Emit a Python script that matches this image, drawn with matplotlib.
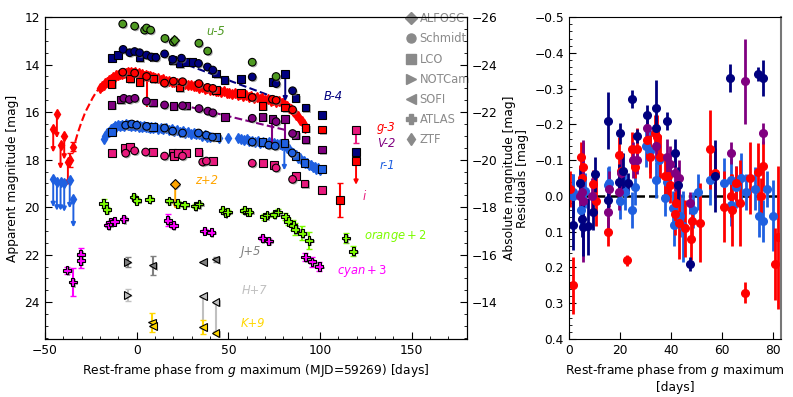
import matplotlib
matplotlib.use('Agg')
import matplotlib.pyplot as plt
import matplotlib.patheffects as pe
from matplotlib.lines import Line2D
from matplotlib.ticker import MultipleLocator

# ── main light curve data (plotted magnitudes, offsets already applied) ──────
u_sch_t = [-7.6, -1.1, 4.3, 5.4, 7.6, 15.4, 20, 33.9, 38.7, 63, 76]
u_sch_m = [12.29, 12.38, 12.55, 12.46, 12.55, 12.9, 13.05, 13.1, 13.43, 13.9, 14.5]
u_alf_t = [20.6]
u_alf_m = [12.95]

B_sch_t = [-7.4, -3.8, -1.1, 1.6, 5.4, 8.0, 10.5, 15.2, 19.6, 24.4, 33.7, 38.6, 41.5, 63, 76, 85]
B_sch_m = [13.36, 13.5, 13.45, 13.5, 13.6, 13.68, 13.7, 13.55, 13.78, 13.73, 13.95, 14.1, 14.23, 14.52, 14.8, 15.1]
B_lco_t = [-13.6, -10.3, 1.6, 9.2, 19.6, 23.4, 27, 30.5, 43.4, 47.8, 57, 74, 81, 86.5, 92, 101, 119.6]
B_lco_m = [13.73, 13.6, 13.7, 13.68, 13.82, 13.95, 13.9, 13.9, 14.37, 14.65, 14.6, 14.73, 14.4, 15.41, 15.8, 16.13, 17.68]
B_fit_t = [22, 81]
B_fit_m = [13.85, 15.55]

g_sch_t = [-7.6, -1.1, 5.4, 15.2, 20, 25, 33.9, 38.6, 41.5, 63, 74, 76, 85]
g_sch_m = [14.32, 14.36, 14.5, 14.78, 14.7, 14.72, 14.8, 14.96, 15.0, 15.38, 15.46, 15.5, 15.9]
g_lco_t = [-13.8, -3.5, 1.6, 9.2, 23.4, 43.3, 57, 68.5, 81, 92, 101, 111, 119.6]
g_lco_m = [14.82, 14.58, 14.73, 14.58, 14.96, 15.07, 15.2, 15.75, 15.8, 16.68, 16.73, 19.7, 18.06]
g_ztf_t = [-20, -19, -18, -17, -16, -15, -14, -13, -12, -11, -10, -9, -8, -7, -6, -5, -4, -3, -2, -1,
           0, 1, 2, 3, 4, 5, 6, 7, 8, 9, 10, 11.5, 13, 14.5, 16, 17.5, 19, 20.5, 22, 23.5, 25, 26.5,
           28, 29.5, 31, 32.5, 34, 35.5, 37, 38.5, 40, 41.5, 43, 44.5, 46, 47.5, 49, 50.5, 52, 53.5,
           55, 56.5, 58, 59.5, 61, 62.5, 64, 65.5, 67, 68.5, 70, 71.5, 73, 74.5, 76, 77.5, 79, 80,
           81, 82, 83, 84, 85, 86, 87, 88, 89, 90, 91, 92]
g_ztf_m = [15.0, 14.9, 14.86, 14.76, 14.73, 14.64, 14.61, 14.53, 14.51, 14.45, 14.44, 14.38, 14.39,
           14.35, 14.37, 14.32, 14.35, 14.31, 14.36, 14.33, 14.38, 14.36, 14.42, 14.39, 14.46, 14.43,
           14.5, 14.47, 14.54, 14.51, 14.58, 14.56, 14.64, 14.62, 14.69, 14.68, 14.74, 14.72, 14.78,
           14.76, 14.82, 14.81, 14.87, 14.85, 14.92, 14.9, 14.97, 14.95, 15.02, 15.0, 15.07, 15.05,
           15.12, 15.1, 15.16, 15.13, 15.2, 15.18, 15.24, 15.21, 15.28, 15.25, 15.32, 15.29, 15.36,
           15.33, 15.4, 15.37, 15.44, 15.41, 15.48, 15.45, 15.52, 15.5, 15.56, 15.55, 15.62, 15.63,
           15.72, 15.73, 15.82, 15.86, 15.97, 16.0, 16.12, 16.18, 16.32, 16.38, 16.52, 16.65]
g_lim_t = [-45.5, -43.5, -41.5, -39.5, -37.5]
g_lim_m = [16.7, 16.1, 17.4, 17.0, 18.1]
g_det_t = [-36.5, -34.5]
g_det_m = [18.0, 17.45]
g_det_e = [0.3, 0.2]
g_fit_t = [-33.5, -32, -30, -28, -26, -24, -22, -20]
g_fit_m = [17.25, 16.85, 16.4, 16.0, 15.7, 15.4, 15.15, 14.95]

V_sch_t = [-7, -4, -1, 5.3, 15.2, 25, 34, 38.8, 41.5, 63, 76, 85]
V_sch_m = [15.42, 15.47, 15.42, 15.54, 15.7, 15.73, 15.85, 15.96, 16.03, 16.26, 16.4, 16.9]
V_lco_t = [-13.8, -8.9, 8.8, 20, 27, 48.3, 68.5, 74, 81, 86.5, 92, 101]
V_lco_m = [15.7, 15.47, 15.6, 15.75, 15.72, 16.2, 16.2, 16.3, 16.3, 16.97, 17.15, 17.57]
V_fit_t = [30, 81]
V_fit_m = [15.8, 16.75]

r_sch_t = [-6, -2.7, 0, 5.4, 15.2, 19.6, 25, 33.7, 38, 41.3, 63, 72, 75.5, 84.8]
r_sch_m = [16.55, 16.5, 16.55, 16.6, 16.67, 16.8, 16.88, 16.88, 16.97, 17.05, 17.26, 17.39, 17.43, 17.72]
r_lco_t = [-13.6, 8.9, 43.5, 68.5, 80.5, 86.5, 91.5, 101]
r_lco_m = [16.84, 16.63, 17.05, 17.26, 17.3, 17.85, 18.15, 18.4]
r_ztf_t = [-18, -17, -16, -15, -14, -13, -12, -11, -10, -9, -8, -7, -6, -5, -4, -3, -2, -1, 0, 1, 2,
           3, 4, 5, 6, 7, 8, 9, 10, 11.5, 13, 14.5, 16, 17.5, 19, 20.5, 22, 23.5, 25, 26.5, 28, 29.5,
           31, 32.5, 34, 35.5, 37, 38.5, 40, 45, 50, 55, 57, 58.5, 60, 61.5, 63, 64.5, 66, 67.5, 69,
           70.5, 72, 73.5, 75, 76.5, 78, 79.5, 81, 82, 83, 84, 85, 86, 87, 88, 89, 90, 91, 92, 93,
           94, 95, 96, 97, 98, 99, 100]
r_ztf_m = [17.15, 17.02, 16.86, 16.82, 16.7, 16.68, 16.6, 16.62, 16.56, 16.58, 16.53, 16.57, 16.52,
           16.56, 16.53, 16.57, 16.54, 16.59, 16.56, 16.61, 16.58, 16.63, 16.6, 16.64, 16.61, 16.65,
           16.62, 16.67, 16.64, 16.69, 16.66, 16.71, 16.68, 16.74, 16.72, 16.78, 16.76, 16.82, 16.8,
           16.86, 16.84, 16.9, 16.88, 16.94, 16.93, 16.99, 16.98, 17.04, 17.03, 17.08, 17.1, 17.1,
           17.12, 17.16, 17.15, 17.21, 17.2, 17.25, 17.23, 17.28, 17.25, 17.3, 17.27, 17.32, 17.29,
           17.35, 17.33, 17.4, 17.4, 17.5, 17.56, 17.67, 17.7, 17.8, 17.82, 17.92, 17.94, 18.04,
           18.05, 18.14, 18.15, 18.24, 18.24, 18.32, 18.3, 18.38, 18.36, 18.43]
r_lim_t = [-45.5, -43.5, -41.5, -39.5, -36.5, -34.5]
r_lim_m = [18.8, 18.95, 18.95, 19.0, 18.85, 19.65]

i_sch_t = [-6, -1.1, 4.9, 15.2, 25, 36, 38, 63, 76, 85]
i_sch_m = [17.73, 17.63, 17.68, 17.85, 17.85, 18.1, 18.06, 18.15, 18.35, 18.83]
i_lco_t = [-13.6, -6.5, -3.8, 8.8, 19.6, 20.5, 22.5, 27, 33.7, 41.5, 69, 75, 87, 91.5, 101, 119.6]
i_lco_m = [17.73, 17.5, 17.48, 17.68, 17.7, 17.85, 17.73, 17.73, 17.68, 18.06, 18.15, 18.23, 18.7,
           19.0, 19.28, 16.76]

z_alf_t = [21]
z_alf_m = [19.03]

o_t = [-18, -16.3, -1.6, 0, 7, 17.6, 22.4, 26, 32, 34, 46.9, 48.5, 49.6, 58.7, 60.5, 61.4, 69.6, 71,
       75, 77, 81, 82.6, 85.3, 86.4, 90.2, 94, 114, 118]
o_m = [19.85, 20.1, 19.57, 19.73, 19.67, 19.73, 19.84, 19.9, 19.95, 19.87, 20.13, 20.25, 20.2, 20.13,
       20.2, 20.2, 20.4, 20.33, 20.3, 20.2, 20.4, 20.6, 20.76, 20.93, 21.1, 21.4, 21.3, 21.85]
o_e = [0.2, 0.1, 0.1, 0.1, 0.08, 0.08, 0.08, 0.08, 0.08, 0.08, 0.08, 0.08, 0.08, 0.1, 0.1, 0.1, 0.12,
       0.1, 0.1, 0.12, 0.15, 0.15, 0.2, 0.25, 0.3, 0.35, 0.2, 0.2]

c_t = [-38, -34.8, -30.5, -30.5, -15.5, -14.2, -12, -7, 17, 20, 37, 40.6, 68.5, 72, 92, 95.6, 99.5]
c_m = [22.65, 23.15, 21.98, 22.25, 20.75, 20.62, 20.6, 20.5, 20.55, 20.76, 21.0, 21.05, 21.3, 21.42,
       22.1, 22.3, 22.5]
c_e = [0.15, 0.6, 0.25, 0.3, 0.1, 0.08, 0.08, 0.1, 0.25, 0.1, 0.06, 0.06, 0.08, 0.08, 0.15, 0.2, 0.2]

J_not_t, J_not_m, J_not_e = [-5], [22.3], [0.2]
J_sofi_t, J_sofi_m, J_sofi_e = [8.7, 36, 43], [22.45, 22.3, 22.2], [0.4, 0.0, 0.1]
H_not_t, H_not_m, H_not_e = [-5], [23.7], [0.25]
H_sofi_t, H_sofi_m, H_sofi_e = [36, 43], [23.75, 24.0], [1.3, 1.2]
K_sofi_t = [8.5, 9, 36, 43]
K_sofi_m = [24.85, 25.0, 25.05, 25.3]
K_sofi_e = [0.4, 0.05, 0.3, 0.05]

# ── residuals ────────────────────────────────────────────────────────────────
res_g_t = [0.4, 1.6, 4.6, 5.1, 5.5, 9.3, 10.5, 15.4, 19.7, 20.5, 22.8, 24.7, 25.8, 26.6, 30.5, 31.9,
           33.8, 34.5, 35.5, 37.7, 38.6, 39.5, 41.5, 41.9, 43, 45.3, 47.7, 48.2, 51.2, 55.3, 57.3,
           60.8, 63.5, 64, 65.5, 67, 69, 71, 74, 75, 76, 80.8, 82]
res_g_r = [-0.02, 0.25, -0.11, -0.05, -0.08, -0.033, 0.015, 0.1, -0.115, -0.07, 0.18, -0.13, -0.08,
           -0.13, -0.155, -0.11, -0.175, -0.165, -0.11, -0.056, -0.055, -0.03, 0.05, 0.02, 0.075,
           0.09, 0.12, 0.07, 0.075, -0.13, -0.065, 0.03, 0.0, 0.04, -0.035, 0.02, 0.27, -0.05,
           -0.068, 0.0, -0.083, 0.19, 0.115]
res_g_e = [0.05, 0.08, 0.04, 0.05, 0.07, 0.04, 0.07, 0.04, 0.05, 0.05, 0.015, 0.05, 0.03, 0.06, 0.05,
           0.06, 0.05, 0.06, 0.06, 0.06, 0.06, 0.05, 0.06, 0.06, 0.1, 0.08, 0.06, 0.06, 0.11, 0.11,
           0.07, 0.1, 0.06, 0.1, 0.05, 0.12, 0.03, 0.1, 0.08, 0.05, 0.07, 0.1, 0.2]

res_r_t = [1.5, 1.6, 4.7, 6.3, 15.4, 15.7, 20, 22, 24.7, 25.9, 30.2, 31.7, 34, 35.3, 37.6, 38.4, 40.8,
           41.2, 43.5, 44.6, 48.6, 50.6, 55.2, 60.8, 63.5, 63.5, 65.4, 67.3, 69.3, 72.9, 74.5, 76,
           77.6, 80]
res_r_r = [-0.01, 0.0, 0.04, -0.015, -0.03, -0.035, 0.015, -0.01, 0.04, -0.025, -0.14, -0.125, -0.045,
           -0.1, 0.005, -0.04, 0.035, 0.08, 0.055, 0.085, 0.04, -0.01, -0.045, -0.035, -0.045, 0.025,
           -0.025, -0.05, -0.01, -0.02, 0.055, 0.07, -0.02, 0.055]
res_r_e = [0.05, 0.06, 0.05, 0.05, 0.05, 0.05, 0.05, 0.05, 0.05, 0.05, 0.06, 0.06, 0.05, 0.06, 0.05,
           0.05, 0.05, 0.06, 0.06, 0.1, 0.05, 0.05, 0.07, 0.07, 0.06, 0.06, 0.06, 0.07, 0.05, 0.06,
           0.06, 0.06, 0.05, 0.1]

res_B_t = [1.7, 4.3, 5.0, 5.5, 7.5, 9.3, 10.2, 15.3, 15.4, 19.6, 20, 21, 23, 24.5, 26.6, 30.5, 34, 34,
           38.4, 41.5, 42.6, 47.4, 57.2, 63.2, 74, 76]
res_B_r = [0.08, -0.035, 0.064, 0.088, 0.085, 0.045, -0.06, -0.21, 0.01, -0.04, -0.175, -0.07, -0.035,
           -0.27, -0.167, -0.225, -0.245, -0.19, -0.21, -0.12, -0.03, 0.19, -0.055, -0.33, -0.34,
           -0.33]
res_B_e = [0.07, 0.05, 0.05, 0.08, 0.08, 0.05, 0.05, 0.08, 0.03, 0.05, 0.03, 0.05, 0.03, 0.025, 0.02,
           0.03, 0.08, 0.03, 0.025, 0.04, 0.05, 0.02, 0.1, 0.04, 0.02, 0.05]

res_V_t = [4.3, 5.0, 5.5, 9.0, 15.4, 15.7, 19.6, 20.4, 25, 26.6, 30.6, 34, 38.4, 39.6, 41.6, 43, 47.4,
           63.5, 69, 76]
res_V_r = [0.0, -0.01, 0.015, 0.0, 0.045, -0.02, -0.01, -0.065, -0.1, -0.1, -0.19, -0.14, -0.11, -0.09,
           -0.065, -0.05, 0.02, -0.12, -0.32, -0.175]
res_V_e = [0.05, 0.04, 0.17, 0.05, 0.05, 0.05, 0.05, 0.06, 0.05, 0.04, 0.05, 0.04, 0.05, 0.05, 0.05,
           0.05, 0.03, 0.03, 0.12, 0.03]

C_U, C_B, C_G, C_V, C_R, C_I = '#4f9a22', '#00007f', '#ff0000', '#800080', '#1f60e0', '#e8197d'
C_Z, C_O, C_C = '#ffa500', '#7cfc00', '#ff00ff'
C_J, C_H, C_K = '#808080', '#c0c0c0', '#ffd700'

DIST_MOD = 38.0
shadow = [pe.SimplePatchShadow(offset=(1.0, -1.0), shadow_rgbFace='gray', alpha=0.6), pe.Normal()]

plt.rcParams['font.size'] = 8.8


def phot(ax, t, m, marker, color, ms=5.5, z=4):
    ax.plot(t, m, ls='none', marker=marker, ms=ms, mfc=color, mec='k', mew=0.8,
            path_effects=shadow, zorder=z)


def limit(ax, t, m, length, color):
    ax.annotate('', xy=(t, m + length), xytext=(t, m),
                arrowprops=dict(arrowstyle='-|>', color=color, lw=1.4, mutation_scale=6,
                                shrinkA=0, shrinkB=0), zorder=3)


fig = plt.figure(figsize=(7.93, 3.97), dpi=100)
ax = fig.add_axes([0.0567, 0.146, 0.532, 0.811])

# ZTF bands
ax.errorbar(g_ztf_t, g_ztf_m, yerr=0.13, fmt='d', ms=5, color=C_G, elinewidth=1.3, zorder=2)
ax.errorbar(r_ztf_t, r_ztf_m, yerr=0.13, fmt='d', ms=5, color=C_R, elinewidth=1.3, zorder=2)

# early ZTF limits and detections
for t, m in zip(g_lim_t, g_lim_m):
    limit(ax, t, m, 1.0, C_G)
ax.plot(g_lim_t, g_lim_m, 'd', ms=5.5, color=C_G, zorder=3)
ax.errorbar(g_det_t, g_det_m, yerr=g_det_e, fmt='d', ms=5.5, color=C_G, capsize=2, zorder=3)
for t, m in zip(r_lim_t, r_lim_m):
    limit(ax, t, m, 1.2, C_R)
ax.plot(r_lim_t, r_lim_m, 'd', ms=5.5, color=C_R, zorder=3)

# fits
ax.plot(g_fit_t, g_fit_m, '--', color=C_G, lw=1.5, zorder=1)
ax.plot(B_fit_t, B_fit_m, '--', color=C_B, lw=1.5, zorder=1)
ax.plot(V_fit_t, V_fit_m, '--', color=C_V, lw=1.5, zorder=1)

# extra error bars / limits
limit(ax, 81, 14.4, 1.15, C_B)
limit(ax, 80.5, 17.3, 1.15, C_R)
limit(ax, 119.6, 18.06, 1.0, C_G)
limit(ax, 21, 19.03, 1.05, C_Z)
ax.errorbar([74, 81], [16.3, 16.3], yerr=[[0, 0], [1.0, 1.0]], fmt='none', ecolor=C_V, lw=1.5, zorder=3)
ax.errorbar([5.5], [14.5], yerr=[[0], [1.3]], fmt='none', ecolor=C_G, lw=1.5, zorder=3)
ax.errorbar([111], [19.7], yerr=0.7, fmt='none', ecolor=C_G, lw=1.5, capsize=2, zorder=3)
ax.errorbar([119.6], [16.76], yerr=[[0.1], [0.55]], fmt='none', ecolor=C_I, lw=1.5, capsize=2, zorder=3)
ax.errorbar(u_alf_t, u_alf_m, yerr=0.12, fmt='none', ecolor=C_U, lw=1.5, capsize=2, zorder=3)

# Schmidt / LCO / ALFOSC
for (st, sm, lt, lm, col) in [(B_sch_t, B_sch_m, B_lco_t, B_lco_m, C_B),
                              (g_sch_t, g_sch_m, g_lco_t, g_lco_m, C_G),
                              (V_sch_t, V_sch_m, V_lco_t, V_lco_m, C_V),
                              (r_sch_t, r_sch_m, r_lco_t, r_lco_m, C_R),
                              (i_sch_t, i_sch_m, i_lco_t, i_lco_m, C_I)]:
    phot(ax, lt, lm, 's', col)
    phot(ax, st, sm, 'o', col)
phot(ax, u_sch_t, u_sch_m, 'o', C_U)
phot(ax, u_alf_t, u_alf_m, 'D', C_U, ms=5)
phot(ax, z_alf_t, z_alf_m, 'D', C_Z, ms=5)

# ATLAS
ax.errorbar(o_t, o_m, yerr=o_e, fmt='none', ecolor=C_O, lw=1.5, capsize=2, zorder=3)
phot(ax, o_t, o_m, 'P', C_O, ms=6)
ax.errorbar(c_t, c_m, yerr=c_e, fmt='none', ecolor=C_C, lw=1.5, capsize=2, zorder=3)
phot(ax, c_t, c_m, 'P', C_C, ms=6)

# NIR
ax.errorbar(J_not_t, J_not_m, yerr=J_not_e, fmt='none', ecolor=C_J, lw=1.5, capsize=2, zorder=3)
ax.errorbar(J_sofi_t, J_sofi_m, yerr=J_sofi_e, fmt='none', ecolor=C_J, lw=1.5, capsize=2, zorder=3)
ax.errorbar(H_not_t, H_not_m, yerr=H_not_e, fmt='none', ecolor=C_H, lw=1.5, capsize=2, zorder=3)
ax.errorbar(H_sofi_t, H_sofi_m, yerr=[[0, 0], H_sofi_e], fmt='none', ecolor=C_H, lw=1.5, capsize=2, zorder=3)
ax.errorbar(K_sofi_t, K_sofi_m, yerr=K_sofi_e, fmt='none', ecolor=C_K, lw=1.5, capsize=2, zorder=3)
phot(ax, J_not_t, J_not_m, '>', C_J)
phot(ax, J_sofi_t, J_sofi_m, '<', C_J)
phot(ax, H_not_t, H_not_m, '>', C_H)
phot(ax, H_sofi_t, H_sofi_m, '<', C_H)
phot(ax, K_sofi_t, K_sofi_m, '<', C_K)

# band labels
labels = [('u-5', 43, 12.6, C_U), ('B-4', 107, 15.33, C_B), ('g-3', 136, 16.63, C_G),
          ('V-2', 136, 17.3, C_V), ('r-1', 136.5, 18.23, C_R), ('i', 124, 19.54, C_I),
          ('z+2', 38, 18.86, C_Z), ('$orange+2$', 141, 21.22, C_O), ('$cyan+3$', 123, 22.7, C_C),
          ('J+5', 62.5, 21.85, C_J), ('H+7', 64, 23.5, C_H), ('K+9', 63.5, 24.9, C_K)]
for txt, x, y, col in labels:
    ax.text(x, y, txt, color=col, style='italic', fontsize=8.3, ha='center', va='center')

ax.set_xlim(-50, 180)
ax.set_ylim(25.55, 12)
ax.xaxis.set_minor_locator(MultipleLocator(10))
ax.yaxis.set_minor_locator(MultipleLocator(0.5))
ax.tick_params(which='both', direction='in', top=False, right=False)
ax.tick_params(which='major', length=5)
ax.tick_params(which='minor', length=2.5)
ax.set_xlabel('Rest-frame phase from $g$ maximum (MJD=59269) [days]')
ax.set_ylabel('Apparent magnitude [mag]')

ax2 = ax.twinx()
ax2.set_ylim(25.55 - DIST_MOD, 12 - DIST_MOD)
ax2.yaxis.set_minor_locator(MultipleLocator(0.5))
ax2.tick_params(which='both', direction='in')
ax2.tick_params(which='major', length=5)
ax2.tick_params(which='minor', length=2.5)
ax2.set_ylabel('Absolute magnitude [mag]')

# legend
leg_items = [('D', 'ALFOSC'), ('o', 'Schmidt'), ('s', 'LCO'), ('>', 'NOTCam'),
             ('<', 'SOFI'), ('P', 'ATLAS'), ('d', 'ZTF')]
handles = [Line2D([], [], ls='none', marker=mk, ms=6.5, color='#8a8a8a') for mk, _ in leg_items]
ax.legend(handles, [lb for _, lb in leg_items], loc='upper left', bbox_to_anchor=(0.855, 1.015),
          frameon=False, fontsize=8.3, labelcolor='#8a8a8a', handletextpad=0.2, handlelength=1.0,
          labelspacing=0.62, borderpad=0, borderaxespad=0)

# ── residual panel ───────────────────────────────────────────────────────────
ax3 = fig.add_axes([0.7175, 0.146, 0.2673, 0.811])
ax3.axhline(0, color='k', ls='--', lw=1.8, zorder=1)
for t, r, e, col in [(res_r_t, res_r_r, res_r_e, C_R), (res_g_t, res_g_r, res_g_e, C_G),
                     (res_V_t, res_V_r, res_V_e, C_V), (res_B_t, res_B_r, res_B_e, C_B)]:
    ax3.errorbar(t, r, yerr=e, fmt='o', ms=5.5, color=col, elinewidth=2, zorder=2)
ax3.set_xlim(0, 83)
ax3.set_ylim(0.4, -0.5)
ax3.yaxis.set_minor_locator(MultipleLocator(0.02))
ax3.tick_params(which='both', direction='in')
ax3.tick_params(which='major', length=5)
ax3.tick_params(which='minor', length=2.5)
ax3.spines['right'].set_color('#777777')
ax3.spines['right'].set_linewidth(1.5)
ax3.set_xlabel('Rest-frame phase from $g$ maximum\n[days]')
ax3.set_ylabel('Residuals [mag]')

fig.savefig('out.png', dpi=100)
